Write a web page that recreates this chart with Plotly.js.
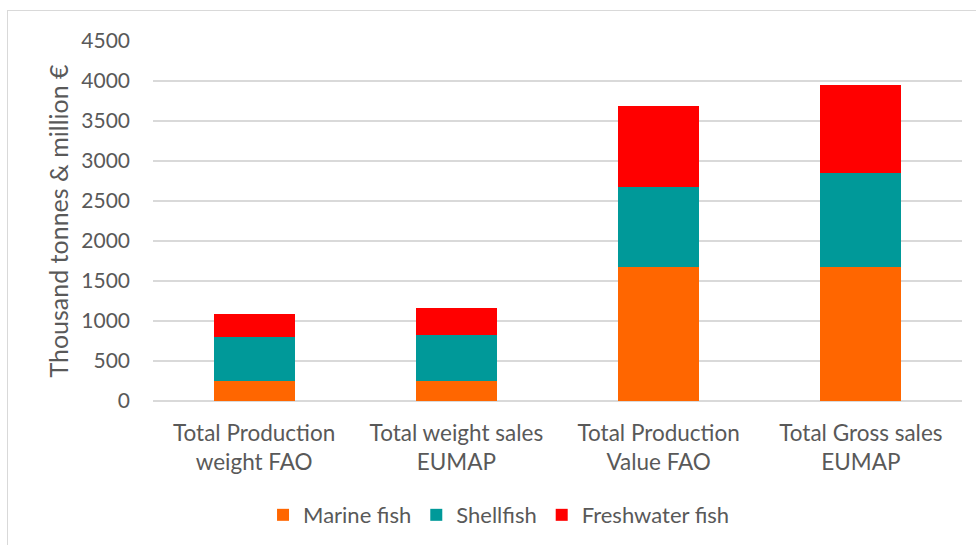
<!DOCTYPE html>
<html>
<head>
<meta charset="utf-8">
<script src="https://cdn.plot.ly/plotly-3.0.1.min.js"></script>
<style>
  html, body { margin: 0; padding: 0; background: #ffffff; }
  #wrap { position: relative; width: 976px; height: 545px; overflow: hidden; }
  #frame { position: absolute; left: 7px; top: 10px; width: 1000px; height: 600px;
           border-left: 1.5px solid #d9d9d9; border-top: 1.5px solid #d9d9d9; }
  #chart { position: absolute; left: 0; top: 0; width: 976px; height: 545px; }
</style>
</head>
<body>
<div id="wrap">
  <div id="frame"></div>
  <div id="chart"></div>
</div>
<script>
// Categories (two-line axis labels)
const categories = [
  "Total Production<br>weight FAO",
  "Total weight sales<br>EUMAP",
  "Total Production<br>Value FAO",
  "Total Gross sales<br>EUMAP"
];

// Stacked components, thousand tonnes (weight) or million € (value)
const marineFish     = [255, 246, 1670, 1670];
const shellfish      = [541, 584, 1007, 1177];
const freshwaterFish = [296, 329, 1013, 1108];

const seriesNames  = ["Marine fish", "Shellfish", "Freshwater fish"];
const seriesColors = ["#FF6600", "#009999", "#FF0000"];
const seriesValues = [marineFish, shellfish, freshwaterFish];

const yTicks = [0, 500, 1000, 1500, 2000, 2500, 3000, 3500, 4000, 4500];

const textColor = "#595959";
const fontFamily = "Lato, 'Open Sans', sans-serif";

const traces = seriesValues.map((vals, i) => ({
  type: "bar",
  name: seriesNames[i],
  x: categories,
  y: vals,
  marker: { color: seriesColors[i], line: { width: 0 } },
  hoverinfo: "skip"
}));

const layout = {
  width: 976,
  height: 545,
  barmode: "stack",
  bargap: 0.6,
  paper_bgcolor: "rgba(0,0,0,0)",
  plot_bgcolor: "rgba(0,0,0,0)",
  margin: { l: 153, r: 14, t: 41, b: 144, pad: 0, autoexpand: false },
  font: { family: fontFamily, color: textColor, size: 22 },
  showlegend: true,
  legend: {
    orientation: "h",
    xref: "container", yref: "container",
    x: 0.2695, xanchor: "left",
    y: 0.055, yanchor: "middle",
    font: { family: fontFamily, color: textColor, size: 22 },
    itemwidth: 30,
    traceorder: "normal",
    bgcolor: "rgba(0,0,0,0)"
  },
  xaxis: {
    type: "category",
    showgrid: false,
    showline: false,
    zeroline: false,
    ticks: "",
    ticklabelstandoff: 16,
    tickfont: { family: fontFamily, color: textColor, size: 22.5 },
    automargin: false,
    fixedrange: true
  },
  yaxis: {
    range: [0, 4500],
    tickvals: yTicks,
    ticktext: yTicks.map(String),
    showgrid: true,
    gridcolor: "#d9d9d9",
    gridwidth: 1.3,
    zeroline: true,
    zerolinecolor: "#d9d9d9",
    zerolinewidth: 1.3,
    showline: false,
    ticks: "",
    ticklabelstandoff: 22,
    tickfont: { family: fontFamily, color: textColor, size: 21 },
    title: {
      text: "Thousand tonnes & million €",
      font: { family: fontFamily, color: textColor, size: 25 },
      standoff: 5
    },
    automargin: false,
    fixedrange: true
  }
};

Plotly.newPlot("chart", traces, layout, { displayModeBar: false, staticPlot: true });
</script>
</body>
</html>
